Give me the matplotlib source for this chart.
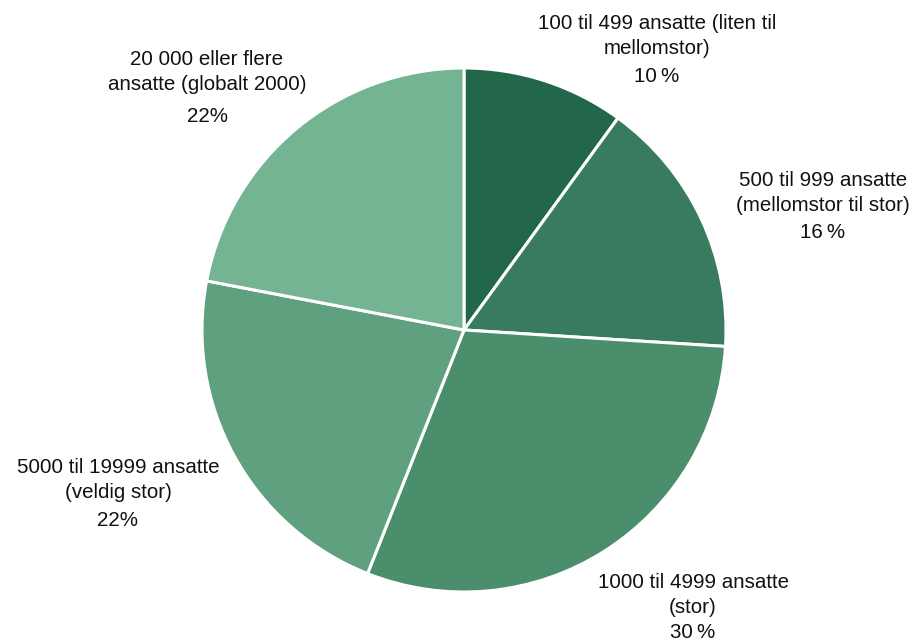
import matplotlib.pyplot as plt

# company size shares, clockwise from 12 o'clock
groups = ['100 til 499 ansatte (liten til\nmellomstor)',
          '500 til 999 ansatte\n(mellomstor til stor)',
          '1000 til 4999 ansatte\n(stor)',
          '5000 til 19999 ansatte\n(veldig stor)',
          '20 000 eller flere\nansatte (globalt 2000)']
shares = [10, 16, 30, 22, 22]
pct_sep = ['\u2009', '\u2009', '\u2009', '', '']
colors = ['#23674b', '#387b5e', '#4b8e6b', '#5fa07e', '#74b493']

# label anchors in pixels (x, name centre y, percent y), measured from the top
label_pos = [(657, 36, 76), (823, 193, 232), (693, 595, 633),
             (118, 480, 520), (207, 72, 116)]

W, H = 914, 643
plt.rcParams['font.family'] = ['Liberation Sans', 'DejaVu Sans']
fig = plt.figure(figsize=(W / 100, H / 100), dpi=100)
ax = fig.add_axes([0, 0, 1, 1])

ax.pie(shares, colors=colors, startangle=90, counterclock=False,
       center=(464, H - 330), radius=262, frame=True,
       wedgeprops=dict(edgecolor='white', linewidth=2.2))
ax.set_xlim(0, W)
ax.set_ylim(0, H)
ax.set_aspect('equal')
ax.axis('off')

for name, v, sep, (x, ny, py) in zip(groups, shares, pct_sep, label_pos):
    ax.text(x, H - ny, name, ha='center', va='center', fontsize=14.8,
            linespacing=1.45, color='#111111')
    ax.text(x, H - py, f'{v}{sep}%', ha='center', va='center', fontsize=14.8,
            color='#111111')

fig.savefig('out.png', dpi=100, facecolor='white')
